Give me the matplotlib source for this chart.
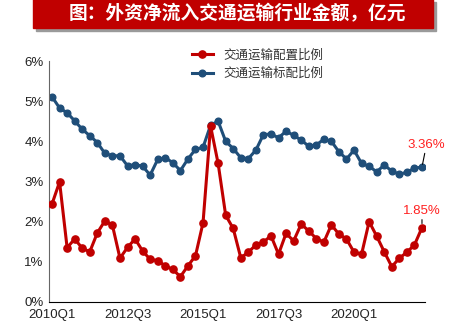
import matplotlib.pyplot as plt
from matplotlib.patches import Rectangle

plt.rcParams['font.family'] = ['Liberation Sans', 'Noto Sans CJK SC', 'DejaVu Sans']

# quarters 2010Q1 .. 2022Q2
quarters = [f"{y}Q{q}" for y in range(2010, 2023) for q in range(1, 5)][:50]

# 交通运输配置比例 (%)
alloc = [2.44, 2.99, 1.35, 1.57, 1.34, 1.25, 1.72, 2.02, 1.91, 1.09,
         1.36, 1.57, 1.27, 1.06, 1.03, 0.90, 0.81, 0.63, 0.90, 1.15,
         1.97, 4.38, 3.45, 2.16, 1.83, 1.10, 1.24, 1.42, 1.49, 1.65,
         1.19, 1.71, 1.52, 1.94, 1.77, 1.58, 1.49, 1.92, 1.69, 1.57,
         1.24, 1.19, 2.00, 1.64, 1.25, 0.88, 1.09, 1.24, 1.42, 1.85]

# 交通运输标配比例 (%)
bench = [5.11, 4.83, 4.71, 4.51, 4.30, 4.14, 3.97, 3.70, 3.64, 3.64,
         3.39, 3.42, 3.38, 3.16, 3.55, 3.59, 3.47, 3.27, 3.56, 3.80,
         3.85, 4.40, 4.50, 4.00, 3.82, 3.59, 3.57, 3.78, 4.17, 4.18,
         4.09, 4.25, 4.15, 4.03, 3.88, 3.91, 4.05, 4.00, 3.74, 3.56,
         3.78, 3.45, 3.38, 3.24, 3.41, 3.26, 3.18, 3.23, 3.33, 3.36]

tick_pos = [0, 10, 20, 30, 40]
red = '#C00000'
blue = '#1F4E79'

fig = plt.figure(figsize=(4.62, 3.36), dpi=100)

# title banner with shadow
fig.patches.append(Rectangle((36 / 462, 1 - 31 / 336), 400 / 462, 29 / 336,
                             transform=fig.transFigure, color='#9a9a9a', zorder=0))
fig.patches.append(Rectangle((33 / 462, 1 - 28 / 336), 400 / 462, 30 / 336,
                             transform=fig.transFigure, color=red, zorder=1))
fig.text(237 / 462, 1 - 14 / 336, '图：外资净流入交通运输行业金额，亿元', color='white',
         fontsize=13.5, fontweight='bold', ha='center', va='center', zorder=2,
         family=['Noto Sans CJK SC'])

ax = fig.add_axes([49 / 462, 34 / 336, (425 - 49) / 462, (302 - 61) / 336])
x = list(range(len(quarters)))
ax.plot(x, alloc, color=red, lw=2.2, marker='o', ms=5.2, label='交通运输配置比例', zorder=3)
ax.plot(x, bench, color=blue, lw=2.2, marker='o', ms=4.8, label='交通运输标配比例', zorder=2)

ax.set_xlim(-0.4, 49.4)
ax.set_ylim(0, 6)
ax.set_yticks(range(7))
ax.set_yticklabels([f'{v}%' for v in range(7)])
ax.set_xticks(tick_pos)
ax.set_xticklabels([quarters[i] for i in tick_pos])
ax.tick_params(length=0, labelsize=9.5, colors='#222222', pad=4)
ax.tick_params(axis='x', pad=5)
for s in ['top', 'right']:
    ax.spines[s].set_visible(False)
ax.spines['left'].set_color('#666666')
ax.spines['bottom'].set_color('black')

ax.annotate(f'{bench[-1]:.2f}%', xy=(49, bench[-1]), xytext=(49.6, 3.77),
            color='#FF2020', fontsize=9.5, ha='center', va='bottom',
            arrowprops=dict(arrowstyle='-', color='black', lw=0.8,
                            shrinkA=0, shrinkB=2), annotation_clip=False)
ax.annotate(f'{alloc[-1]:.2f}%', xy=(49, alloc[-1]), xytext=(49, 2.12),
            color='#FF2020', fontsize=9.5, ha='center', va='bottom',
            arrowprops=dict(arrowstyle='-', color='black', lw=0.8,
                            shrinkA=0, shrinkB=3), annotation_clip=False)

leg = ax.legend(loc='upper left', bbox_to_anchor=(0.35, 1.095), frameon=False,
                fontsize=9, handlelength=1.7, handletextpad=0.8,
                labelspacing=0.5, labelcolor='#333333')

fig.savefig('out.png', dpi=100)
